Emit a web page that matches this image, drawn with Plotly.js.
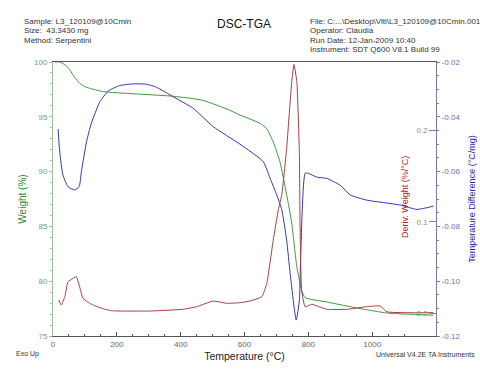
<!DOCTYPE html>
<html>
<head>
<meta charset="utf-8">
<script src="https://cdn.plot.ly/plotly-3.0.1.min.js"></script>
<style>html,body{margin:0;padding:0;background:#fff;}#chart{width:480px;height:371px;}</style>
</head>
<body>
<div id="chart"></div>
<script>
// Weight (%) TGA curve
const tgaTemp = [5, 21, 40, 52, 68, 84, 100, 115, 156, 251, 367, 429, 470, 554, 586, 617, 649, 670, 690, 711, 732, 748, 764, 779, 790, 858, 962, 1046, 1192];
const tgaWeight = [100, 100, 99.7, 99.3, 98.6, 98.05, 97.75, 97.6, 97.3, 97.1, 96.9, 96.7, 96.5, 95.6, 95.15, 94.8, 94.4, 93.9, 92.7, 90.9, 87.9, 85.3, 81.3, 79.2, 78.5, 78.1, 77.5, 77.1, 76.9];

// Temperature difference (°C/mg) DTA curve
const dtaTemp = [16, 21, 31, 47, 68, 82, 89, 105, 120, 147, 173, 209, 251, 293, 324, 377, 439, 502, 586, 659, 680, 701, 717, 732, 743, 762, 772, 776, 790, 800, 826, 858, 900, 931, 983, 1088, 1140, 1192];
const dtaDiff = [-0.0445, -0.0527, -0.0612, -0.0655, -0.0667, -0.0655, -0.060, -0.0491, -0.0424, -0.0345, -0.0306, -0.0286, -0.028, -0.0281, -0.0292, -0.0327, -0.0369, -0.0436, -0.0500, -0.0564, -0.0624, -0.0685, -0.074, -0.085, -0.0971, -0.1142, -0.1069, -0.091, -0.0606, -0.0606, -0.0620, -0.0625, -0.0650, -0.0685, -0.0704, -0.0722, -0.0738, -0.0726];

// Deriv. weight (%/°C) DTG curve
const dtgTemp = [18, 26, 37, 47, 63, 73, 82, 94, 115, 126, 152, 183, 303, 408, 450, 502, 544, 586, 617, 654, 670, 690, 706, 717, 732, 748, 755, 764, 772, 774, 779, 790, 811, 858, 921, 983, 1025, 1046, 1192];
const dtgDeriv = [0.0145, 0.0091, 0.0181, 0.0345, 0.0382, 0.040, 0.031, 0.0164, 0.0109, 0.0091, 0.0055, 0.0028, 0.0025, 0.0044, 0.0072, 0.0134, 0.0109, 0.0116, 0.0134, 0.0181, 0.0328, 0.080, 0.113, 0.13, 0.18, 0.253, 0.272, 0.253, 0.173, 0.098, 0.025, 0.0072, 0.0098, 0.0044, 0.0044, 0.0072, 0.008, 0.0017, 0.0007];

// Tick labels
const diffTickVals = [-0.12, -0.10, -0.08, -0.06, -0.04, -0.02];
const diffTickText = ['-0.12', '-0.10', '-0.08', '-0.06', '-0.04', '-0.02'];
const derivTickVals = [0, 0.1, 0.2];
const derivTickText = ['0.0', '0.1', '0.2'];

const headerLeft = ['Sample: L3_120109@10Cmin', 'Size:  43.3430 mg', 'Method: Serpentini'];
const headerRight = ['File: C:...\\Desktop\\Viti\\L3_120109@10Cmin.001', 'Operator: Claudia', 'Run Date: 12-Jan-2009 10:40', 'Instrument: SDT Q600 V8.1 Build 99'];

const FONT = 'Liberation Sans, Arial, sans-serif';
const green = '#3f9a3f', blue = '#3535b5', red = '#a54040';

const traces = [
  {x: tgaTemp, y: tgaWeight, type: 'scatter', mode: 'lines', line: {color: green, width: 1, shape: 'spline', smoothing: 0.5}, yaxis: 'y', name: 'Weight'},
  {x: dtaTemp, y: dtaDiff, type: 'scatter', mode: 'lines', line: {color: blue, width: 1, shape: 'spline', smoothing: 0.5}, yaxis: 'y2', name: 'Temperature Difference'},
  {x: dtgTemp, y: dtgDeriv, type: 'scatter', mode: 'lines', line: {color: red, width: 1, shape: 'spline', smoothing: 0.4}, yaxis: 'y3', name: 'Deriv. Weight'}
];

const W = 480, H = 371, ml = 53, mr = 44, mt = 62, mb = 35;
const pw = W - ml - mr, ph = H - mt - mb;
const px = v => (v - ml) / pw;
const py = v => (H - mb - v) / ph;

const annotations = [];
headerLeft.forEach((t, i) => annotations.push({text: t, xref: 'paper', yref: 'paper', x: px(22), y: py(21 + i * 9.5), xanchor: 'left', yanchor: 'middle', showarrow: false, font: {family: FONT, size: 8, color: '#333'}}));
headerRight.forEach((t, i) => annotations.push({text: t, xref: 'paper', yref: 'paper', x: px(308), y: py(21 + i * 9.5), xanchor: 'left', yanchor: 'middle', showarrow: false, font: {family: FONT, size: 8, color: '#333'}}));
annotations.push({text: 'Exo Up', xref: 'paper', yref: 'paper', x: px(14), y: py(354), xanchor: 'left', yanchor: 'middle', showarrow: false, font: {family: FONT, size: 7, color: '#333'}});
annotations.push({text: 'Universal V4.2E TA Instruments', xref: 'paper', yref: 'paper', x: px(477), y: py(354), xanchor: 'right', yanchor: 'middle', showarrow: false, font: {family: FONT, size: 7, color: '#333'}});
annotations.push({text: 'Deriv. Weight (%/°C)', xref: 'paper', yref: 'paper', x: px(405), y: py(197), xanchor: 'center', yanchor: 'middle', textangle: -90, showarrow: false, font: {family: FONT, size: 9, color: '#a02828'}});

const layout = {
  width: W, height: H,
  margin: {l: ml, r: mr, t: mt, b: mb, pad: 0},
  paper_bgcolor: '#fff', plot_bgcolor: '#fff',
  showlegend: false,
  font: {family: FONT},
  title: {text: 'DSC-TGA', font: {family: FONT, size: 12, color: '#111'}, x: 244 / W, xanchor: 'center', y: 1 - 24 / H, yanchor: 'middle'},
  xaxis: {
    range: [0, 1200], dtick: 200, tick0: 0, showgrid: false, zeroline: false,
    showline: true, linecolor: '#555', linewidth: 1, mirror: true,
    ticks: 'inside', ticklen: 4, tickcolor: '#555',
    minor: {dtick: 50, ticks: 'inside', ticklen: 2, tickcolor: '#555'},
    tickfont: {family: FONT, size: 8, color: '#666'},
    title: {text: 'Temperature (°C)', font: {family: FONT, size: 10.5, color: '#222'}, standoff: 5}
  },
  yaxis: {
    range: [75, 100], dtick: 5, showgrid: false, zeroline: false,
    showline: true, linecolor: '#9cc49c', linewidth: 1,
    ticks: 'outside', ticklen: 3, tickcolor: '#9cc49c',
    minor: {dtick: 1, ticks: 'outside', ticklen: 2, tickcolor: '#9cc49c'},
    tickfont: {family: FONT, size: 8, color: '#7a9a7a'},
    title: {text: 'Weight (%)', font: {family: FONT, size: 10, color: '#2e8b2e'}, standoff: 5}
  },
  yaxis2: {
    overlaying: 'y', side: 'right', anchor: 'x',
    range: [-0.12, -0.02], tickvals: diffTickVals, ticktext: diffTickText,
    showgrid: false, zeroline: false,
    showline: true, linecolor: '#7878c0', linewidth: 1,
    ticks: 'outside', ticklen: 3, tickcolor: '#7878c0',
    minor: {dtick: 0.005, ticks: 'outside', ticklen: 2, tickcolor: '#7878c0'},
    tickfont: {family: FONT, size: 8, color: '#7070b0'},
    title: {text: 'Temperature Difference (°C/mg)', font: {family: FONT, size: 9, color: '#2323b0'}, standoff: 9}
  },
  yaxis3: {
    overlaying: 'y', side: 'right', anchor: 'free', position: 1,
    range: [-0.0248, 0.2746], tickvals: derivTickVals, ticktext: derivTickText,
    showgrid: false, zeroline: false, showline: false,
    ticks: 'inside', ticklen: 7, tickcolor: '#8080b8',
    ticklabelposition: 'inside',
    tickfont: {family: FONT, size: 8, color: '#a08878'}
  },
  annotations: annotations
};

Plotly.newPlot('chart', traces, layout, {displayModeBar: false, staticPlot: true});
</script>
</body>
</html>
